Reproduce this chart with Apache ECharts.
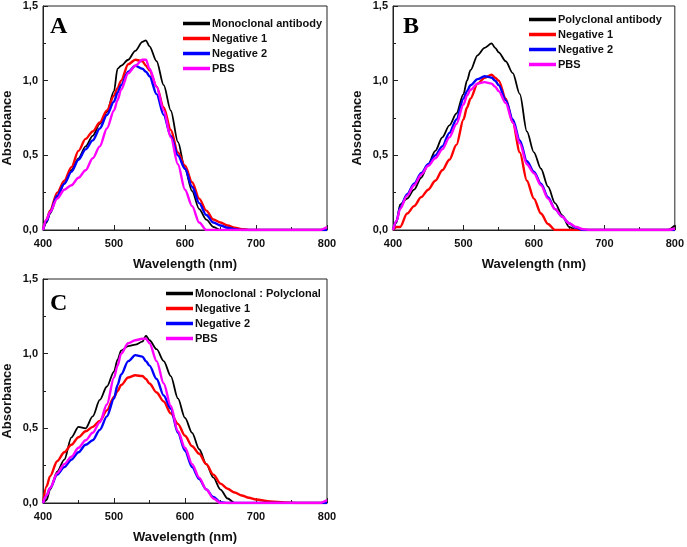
<!DOCTYPE html>
<html>
<head>
<meta charset="utf-8">
<script src="https://cdn.jsdelivr.net/npm/echarts@6/dist/echarts.min.js"></script>
<style>
html,body{margin:0;padding:0;background:#fff;}
#chart{width:687px;height:547px;}
</style>
</head>
<body>
<div id="chart"></div>
<script>
// Wavelength grid (nm), shared by all series
var wavelengths = [400,405,410,420,430,440,450,460,470,480,490,500,505,510,520,530,540,545,550,560,570,580,590,600,610,620,630,640,650,660,670,680,690,700,720,740,760,780,790,800];

// Panel A
var aMonoclonal = [0,0.05,0.11,0.22,0.31,0.40,0.48,0.56,0.63,0.71,0.79,0.93,1.08,1.10,1.14,1.20,1.26,1.27,1.23,1.13,0.97,0.80,0.59,0.41,0.26,0.14,0.07,0.02,0,0,0,0,0,0,0,0,0,0,0,0];
var aNegative1  = [0,0.07,0.13,0.25,0.33,0.42,0.53,0.61,0.66,0.72,0.80,0.90,0.95,1.00,1.11,1.14,1.13,1.10,1.07,0.96,0.82,0.67,0.52,0.43,0.32,0.21,0.13,0.07,0.05,0.03,0.015,0.006,0,0,0,0,0,0,0,0];
var aNegative2  = [0,0.06,0.12,0.23,0.31,0.39,0.47,0.54,0.60,0.68,0.77,0.86,0.92,0.97,1.06,1.10,1.08,1.06,1.03,0.91,0.77,0.63,0.50,0.41,0.29,0.18,0.10,0.05,0.03,0.015,0.005,0,0,0,0,0,0,0,0,0];
var aPBS        = [0,0.07,0.12,0.21,0.27,0.30,0.35,0.40,0.48,0.56,0.68,0.80,0.87,0.94,1.05,1.10,1.14,1.14,1.08,0.96,0.80,0.62,0.44,0.27,0.16,0.05,0,0,0,0,0,0,0,0,0,0,0,0,0,0.02];

// Panel B
var bPolyclonal = [0,0.05,0.17,0.21,0.27,0.35,0.44,0.53,0.62,0.70,0.78,0.91,1.00,1.07,1.17,1.22,1.25,1.22,1.19,1.13,1.05,0.91,0.66,0.52,0.41,0.29,0.18,0.10,0.02,0,0,0,0,0,0,0,0,0,0,0.03];
var bNegative1  = [0,0.02,0.02,0.11,0.16,0.22,0.27,0.33,0.40,0.47,0.57,0.74,0.82,0.88,0.98,1.02,1.04,1.02,1.00,0.88,0.72,0.52,0.33,0.21,0.11,0.04,0,0,0,0,0,0,0,0,0,0,0,0,0,0];
var bNegative2  = [0,0.06,0.15,0.24,0.31,0.38,0.44,0.50,0.56,0.65,0.74,0.88,0.93,0.97,1.01,1.03,1.02,1.00,0.97,0.87,0.74,0.60,0.46,0.39,0.31,0.22,0.14,0.09,0.045,0.015,0,0,0,0,0,0,0,0,0,0];
var bPBS        = [0,0.06,0.14,0.23,0.30,0.37,0.43,0.48,0.54,0.62,0.71,0.84,0.90,0.94,0.98,0.99,0.98,0.96,0.93,0.85,0.72,0.58,0.44,0.38,0.30,0.21,0.14,0.09,0.045,0.02,0.005,0,0,0,0,0,0,0,0,0.01];

// Panel C
var cMonoPoly   = [0,0.02,0.09,0.21,0.29,0.44,0.51,0.50,0.58,0.69,0.78,0.88,0.96,1.02,1.05,1.06,1.08,1.12,1.09,1.03,0.95,0.85,0.70,0.57,0.47,0.36,0.26,0.17,0.09,0.03,0,0,0,0,0,0,0,0,0,0];
var cNegative1  = [0,0.11,0.18,0.28,0.34,0.39,0.44,0.48,0.51,0.55,0.62,0.71,0.75,0.79,0.84,0.855,0.85,0.83,0.80,0.74,0.68,0.60,0.53,0.45,0.38,0.33,0.26,0.19,0.13,0.095,0.07,0.05,0.035,0.023,0.01,0.004,0,0,0,0];
var cNegative2  = [0,0.05,0.10,0.19,0.24,0.29,0.34,0.39,0.42,0.49,0.58,0.70,0.79,0.86,0.95,0.99,0.98,0.95,0.92,0.83,0.72,0.63,0.47,0.35,0.24,0.16,0.09,0.04,0.005,0,0,0,0,0,0,0,0,0,0,0];
var cPBS        = [0,0.05,0.10,0.20,0.26,0.31,0.37,0.42,0.47,0.54,0.66,0.84,0.92,1.00,1.07,1.09,1.10,1.10,1.07,0.95,0.80,0.65,0.48,0.37,0.26,0.17,0.09,0.03,0,0,0,0,0,0,0,0,0,0,0,0.02];

// Legend labels and tick labels
var legendA = ['Monoclonal antibody','Negative 1','Negative 2','PBS'];
var legendB = ['Polyclonal antibody','Negative 1','Negative 2','PBS'];
var legendC = ['Monoclonal : Polyclonal','Negative 1','Negative 2','PBS'];
var panelLetters = ['A','B','C'];
var yTickLabels = ['0,0','0,5','1,0','1,5'];
var xTickLabels = ['400','500','600','700','800'];
var xTitle = 'Wavelength (nm)';
var yTitle = 'Absorbance';

var colors = ['#000000','#ff0000','#0000ff','#ff00ff'];
var widths = [1.8, 2.4, 2.4, 2.4];

var chart = echarts.init(document.getElementById('chart'));
var font = "'Liberation Sans', Arial, sans-serif";

var grids = [
  {left:43, top:6, width:284, height:224},
  {left:393, top:6, width:284, height:224},
  {left:43, top:279, width:284, height:224}
];
grids.forEach(function(g){ g.show = true; g.borderColor = '#222'; g.borderWidth = 1; g.backgroundColor = 'transparent'; });

function xAx(i){
  return {
    type:'value', gridIndex:i, min:400, max:800, interval:100,
    name:xTitle, nameLocation:'middle', nameGap:28,
    nameTextStyle:{fontFamily:font, fontSize:13, fontWeight:'bold', color:'#111'},
    axisLine:{show:true, onZero:false, lineStyle:{color:'#222', width:1}},
    axisTick:{show:true, inside:true, length:5, lineStyle:{color:'#222'}},
    minorTick:{show:true, splitNumber:2, length:3, lineStyle:{color:'#222'}},
    splitLine:{show:false},
    axisLabel:{margin:8, fontFamily:font, fontSize:11, fontWeight:'bold', color:'#111',
      formatter:function(v){ return xTickLabels[Math.round((v-400)/100)]; }}
  };
}
function yAx(i){
  return {
    type:'value', gridIndex:i, min:0, max:1.5, interval:0.5,
    name:yTitle, nameLocation:'middle', nameGap:29, nameRotate:90,
    nameTextStyle:{fontFamily:font, fontSize:13, fontWeight:'bold', color:'#111', padding:[0,20,0,0]},
    axisLine:{show:true, lineStyle:{color:'#222', width:1}},
    axisTick:{show:true, inside:true, length:5, lineStyle:{color:'#222'}},
    minorTick:{show:true, splitNumber:2, length:3, lineStyle:{color:'#222'}},
    splitLine:{show:false},
    axisLabel:{margin:5, fontFamily:font, fontSize:11, fontWeight:'bold', color:'#111',
      formatter:function(v){ return yTickLabels[Math.round(v/0.5)]; }}
  };
}

function pairs(vals){
  return wavelengths.map(function(w,k){ return [w, vals[k]]; });
}

var panels = [
  {names:legendA, data:[aMonoclonal,aNegative1,aNegative2,aPBS]},
  {names:legendB, data:[bPolyclonal,bNegative1,bNegative2,bPBS]},
  {names:legendC, data:[cMonoPoly,cNegative1,cNegative2,cPBS]}
];

var series = [];
panels.forEach(function(p, i){
  p.data.forEach(function(vals, j){
    series.push({
      type:'line', name:p.names[j], xAxisIndex:i, yAxisIndex:i,
      data:pairs(vals), showSymbol:false, symbol:'none',
      smooth:0.3, smoothMonotone:'x',
      lineStyle:{color:colors[j], width:widths[j]},
      itemStyle:{color:colors[j]},
      animation:false, silent:true
    });
  });
});

var legendPos = [{left:183, top:17}, {left:529, top:13}, {left:166, top:287}];
var legends = panels.map(function(p, i){
  return {
    data:p.names, orient:'vertical', left:legendPos[i].left, top:legendPos[i].top,
    padding:0, itemGap:2, itemWidth:27, itemHeight:3.5, icon:'rect',
    selectedMode:false,
    textStyle:{fontFamily:font, fontSize:11, fontWeight:'bold', color:'#111', lineHeight:13, padding:[0,0,0,-3]}
  };
});

var letterPos = [{x:50, y:27}, {x:403, y:27}, {x:50, y:304}];
var graphics = panelLetters.map(function(t, i){
  return {
    type:'text', left:letterPos[i].x, top:letterPos[i].y - 12,
    style:{text:t, fontFamily:"'Liberation Serif','Times New Roman',serif", fontSize:24, fontWeight:'bold', fill:'#000'}
  };
});

chart.setOption({
  animation:false,
  backgroundColor:'#fff',
  grid:grids,
  xAxis:[xAx(0), xAx(1), xAx(2)],
  yAxis:[yAx(0), yAx(1), yAx(2)],
  legend:legends,
  graphic:graphics,
  series:series
});
</script>
</body>
</html>
